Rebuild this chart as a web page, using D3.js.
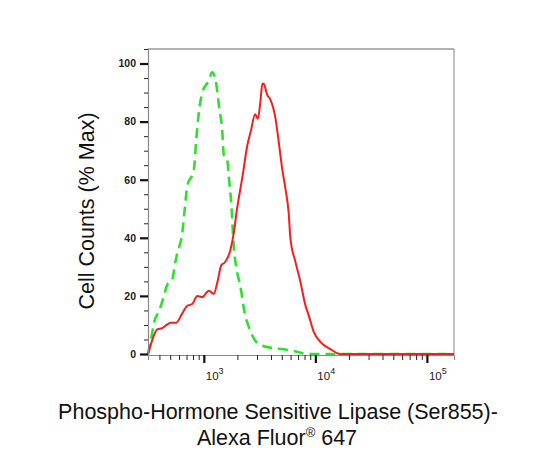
<!DOCTYPE html>
<html lang="en">
<head>
    <meta charset="UTF-8">
    <title>Phospho-HSL (Ser855) flow histogram</title>
    <script src="https://d3js.org/d3.v7.min.js"></script>
    <style>
        body { margin: 0; background: #fff; }
        svg { display: block; font-family: "Liberation Sans", Arial, sans-serif; }
        .curve { fill: none; stroke-linejoin: round; }
    </style>
</head>
<body>
    <svg width="553" height="467"></svg>

    <script>
        // isotype control (green dashed)
        const isoIntensity = [316, 327, 340, 357, 401, 438, 470, 521, 550, 578, 641, 676, 710, 814, 855, 902, 968,
            1109, 1189, 1273, 1382, 1462, 1510, 1620, 1675, 1770, 1856, 1950, 2131, 2328, 2530, 2803, 3218,
            4233, 5035, 6855, 8430, 13600, 175000];
        const isoCount = [0, 2.8, 6.0, 10.6, 15.2, 19.8, 23.8, 25.5, 30.7, 34.7, 41.6, 50.2, 57.7, 63.4, 73.8, 83.0, 89.9,
            94.2, 97.0, 94.5, 84.1, 77.2, 68.6, 66.9, 61.1, 50.8, 37.0, 30.1, 23.2, 14.0, 9.4, 5.4, 3.1,
            2.0, 1.7, 0.8, 0, 0, 0];

        // stained sample (red solid)
        const stainIntensity = [318, 345, 383, 424, 464, 504, 566, 641, 710, 787, 873, 968, 1109, 1229, 1318, 1440,
            1542, 1734, 1856, 1982, 2244, 2446, 2646, 2884, 3057, 3218, 3354, 3459, 3695, 3954, 4385, 4691,
            5035, 5383, 5768, 5973, 6622, 7345, 8128, 8710, 9660, 11090, 13620, 16750, 175000];
        const stainCount = [0.2, 4.8, 8.5, 8.9, 10.0, 10.8, 10.8, 14.0, 16.6, 17.2, 20.0, 19.6, 21.8, 20.7, 24.4, 30.7,
            31.5, 35.9, 41.6, 49.7, 62.1, 71.5, 76.9, 82.5, 81.0, 87.0, 93.1, 92.9, 89.3, 87.6, 81.3, 73.2,
            64.0, 57.1, 48.5, 39.9, 31.8, 24.9, 16.9, 13.4, 7.7, 4.2, 1.7, 0, 0];

        const yMajor = [0, 20, 40, 60, 80, 100];
        const xMajor = [1e3, 1e4, 1e5];
        const xMajorExp = ["3", "4", "5"];

        const svg = d3.select("svg");

        const x = d3.scaleLog().domain([316, 175000]).range([148, 454]);
        const y = d3.scaleLinear().domain([0, 105]).range([354, 49]);

        // minor ticks
        const xMinor = [];
        [100, 1000, 10000, 100000].forEach(d => {
            for (let k = 2; k <= 9; k++) {
                const v = k * d;
                if (v >= 316 && v <= 175000) xMinor.push(v);
            }
        });
        const yMinor = d3.range(0, 106, 5).filter(v => v % 20 !== 0);

        // frame (top + right)
        svg.append("line").attr("x1", 148).attr("x2", 454).attr("y1", 49).attr("y2", 49)
            .attr("stroke", "#666").attr("stroke-width", 1.2);
        svg.append("line").attr("x1", 454).attr("x2", 454).attr("y1", 49).attr("y2", 355)
            .attr("stroke", "#999").attr("stroke-width", 1.2);

        // curves
        const line = d3.line()
            .x(d => x(d[0]))
            .y(d => y(d[1]))
            .curve(d3.curveMonotoneX);

        svg.append("path")
            .attr("class", "curve")
            .attr("stroke", "#2fe02f")
            .attr("stroke-width", 2.6)
            .attr("stroke-dasharray", "10,6")
            .attr("d", line(d3.zip(isoIntensity, isoCount)));

        svg.append("path")
            .attr("class", "curve")
            .attr("stroke", "#f51d1d")
            .attr("stroke-width", 2)
            .attr("d", line(d3.zip(stainIntensity, stainCount)));

        // x axis
        const gx = svg.append("g").attr("transform", "translate(0,355)");
        gx.append("g")
            .call(d3.axisBottom(x).tickValues(xMinor).tickSize(5).tickFormat(""))
            .call(g => g.select(".domain").attr("stroke", "#888"))
            .call(g => g.selectAll(".tick line").attr("stroke", "#222"));
        gx.append("g")
            .call(d3.axisBottom(x).tickValues(xMajor).tickSize(8).tickFormat(""))
            .call(g => g.select(".domain").remove())
            .call(g => g.selectAll(".tick line").attr("stroke", "#111").attr("stroke-width", 2.2));

        const xl = gx.selectAll(".xlab").data(xMajor).enter().append("text")
            .attr("class", "xlab")
            .attr("x", d => x(d) + 2)
            .attr("y", 25)
            .attr("font-size", 11.5)
            .attr("fill", "#222");
        xl.append("tspan").text("10");
        xl.append("tspan").attr("dy", -6).attr("font-size", 9).text((d, i) => xMajorExp[i]);

        // y axis
        const gy = svg.append("g").attr("transform", "translate(148,0)");
        gy.append("g")
            .call(d3.axisLeft(y).tickValues(yMinor).tickSize(4).tickFormat(""))
            .call(g => g.select(".domain").attr("stroke", "#888").attr("stroke-width", 1.2))
            .call(g => g.selectAll(".tick line").attr("stroke", "#222"));
        gy.append("g")
            .call(d3.axisLeft(y).tickValues(yMajor).tickSize(8).tickPadding(4))
            .call(g => g.select(".domain").remove())
            .call(g => g.selectAll(".tick line").attr("stroke", "#111").attr("stroke-width", 2.2))
            .call(g => g.selectAll(".tick text")
                .attr("font-size", 10.5)
                .attr("font-weight", "bold")
                .attr("fill", "#222")
                .attr("font-family", "\"Liberation Sans\", Arial, sans-serif"));

        // axis titles
        svg.append("text")
            .attr("transform", "translate(94,211) rotate(-90)")
            .attr("text-anchor", "middle")
            .attr("font-size", 21.5)
            .attr("fill", "#111")
            .text("Cell Counts (% Max)");

        svg.append("text")
            .attr("x", 278).attr("y", 419)
            .attr("text-anchor", "middle")
            .attr("font-size", 21.5)
            .attr("fill", "#111")
            .text("Phospho-Hormone Sensitive Lipase (Ser855)-");

        const t2 = svg.append("text")
            .attr("x", 277).attr("y", 445)
            .attr("text-anchor", "middle")
            .attr("font-size", 21.5)
            .attr("fill", "#111");
        t2.append("tspan").text("Alexa Fluor");
        t2.append("tspan").attr("dy", -8).attr("font-size", 13).text("®");
        t2.append("tspan").attr("dy", 8).text(" 647");
    </script>
</body>
</html>
